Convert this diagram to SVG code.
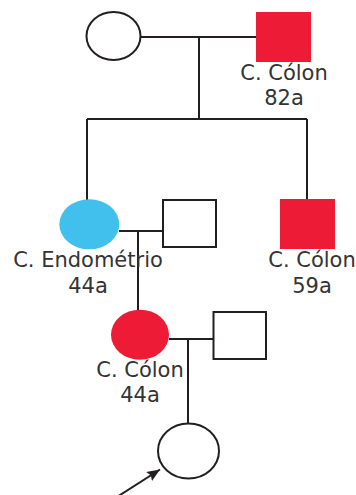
<svg xmlns="http://www.w3.org/2000/svg" width="356" height="495" viewBox="0 0 356 495">
<style>
.ln{fill:none;stroke:#231f20;stroke-width:2}
.o{fill:#fff;stroke:#231f20;stroke-width:2}
.red{fill:#ee1b36}
.blue{fill:#41bfed}
text{font-family:"DejaVu Sans",Verdana,sans-serif;font-size:21px;fill:#333;text-anchor:middle}
</style>
<defs>
<marker id="ah" viewBox="0 0 12 10" refX="12" refY="5" markerWidth="13" markerHeight="11" orient="auto" markerUnits="userSpaceOnUse">
<path d="M0,0L12,5L0,10L2,5z" fill="#231f20"/>
</marker>
</defs>
<g id="connectors">
<path class="ln" d="M140,37H256M199,37V119M87,119H307M87,119V200M307,119V199"/>
<path class="ln" d="M119,231H163M138,231V310"/>
<path class="ln" d="M169,339H213M188,339V424"/>
<path d="M117,497L160,469.5" fill="none" stroke="#231f20" stroke-width="2" marker-end="url(#ah)"/>
</g>
<g id="grandmother"><ellipse class="o" cx="113.5" cy="36" rx="27" ry="24"/></g>
<g id="grandfather"><rect class="red" x="256" y="12" width="55" height="50"/><text x="284" y="80">C. Cólon</text><text x="284" y="105">82a</text></g>
<g id="mother-gen2"><ellipse class="blue" cx="89.3" cy="224.3" rx="30" ry="25"/><text x="88" y="267">C. Endométrio</text><text x="88" y="293">44a</text></g>
<g id="husband-gen2"><rect class="o" x="163" y="200" width="53" height="47"/></g>
<g id="uncle"><rect class="red" x="280" y="199" width="55" height="50"/><text x="312" y="267">C. Cólon</text><text x="312" y="293">59a</text></g>
<g id="mother-gen3"><ellipse class="red" cx="140" cy="334.7" rx="29" ry="25"/><text x="140" y="377">C. Cólon</text><text x="140" y="402">44a</text></g>
<g id="husband-gen3"><rect class="o" x="213.5" y="312" width="52.5" height="47"/></g>
<g id="proband"><ellipse class="o" cx="188.5" cy="451" rx="30.5" ry="27.5"/></g>
</svg>
